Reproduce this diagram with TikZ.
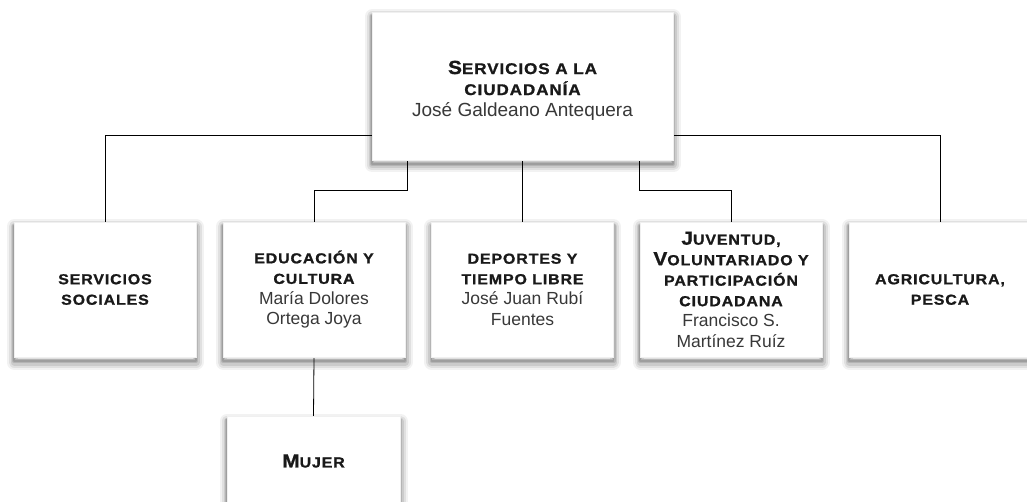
\documentclass[tikz,border=0pt]{standalone}
\usepackage{fontspec}
\setmainfont{Liberation Sans}
\newfontfamily\capfont[FakeStretch=1.1,LetterSpace=6,FakeBold=1.1]{Liberation Sans}
\usetikzlibrary{shadows}
\pgfdeclarelayer{background}
\pgfsetlayers{background,main}
\newcommand\hd[1]{{\capfont\bfseries #1}}
\newcommand\Bg[1]{{\fontsize{19}{20}\selectfont #1}}
\newcommand\nm[1]{{\fontsize{17.5}{20.5}\selectfont\color{black!78}#1}}
\tikzset{
  softshadow/.style={
    general shadow={shadow xshift=0pt, shadow yshift=-5pt, draw=black, line width=15pt, opacity=0.05, line join=round},
    general shadow={shadow xshift=0pt, shadow yshift=-5pt, draw=black, line width=11pt, opacity=0.07, line join=round},
    general shadow={shadow xshift=0pt, shadow yshift=-5pt, draw=black, line width=7pt, opacity=0.09, line join=round},
    general shadow={shadow xshift=0pt, shadow yshift=-4pt, draw=black, line width=4pt, opacity=0.11, line join=round},
    general shadow={shadow xshift=0pt, shadow yshift=-4pt, draw=black, line width=1.5pt, opacity=0.12, line join=round}},
  orgbox/.style={draw=black!6, fill=white, inner sep=0pt, align=center,
    minimum width=182pt, minimum height=135pt, text=black!90,
    font=\fontsize{14.5}{20.5}\selectfont, softshadow},
  link/.style={draw=black, line width=0.8pt}
}
\begin{document}
\begin{tikzpicture}[x=1pt,y=-1pt]
\begin{pgfonlayer}{background}
\fill[white] (0,0) rectangle (1027,502);
\end{pgfonlayer}
\path[use as bounding box, clip] (0,0) rectangle (1027,502);
% nodes
\node[orgbox, minimum width=301pt, minimum height=148pt, font=\fontsize{15.5}{21}\selectfont] (top) at (522.5,86)
  {\rule{0pt}{22pt}\hd{\Bg{S}ERVICIOS A LA}\\\hd{CIUDADANÍA}\\{\fontsize{19}{21}\selectfont\color{black!78}José Galdeano Antequera}};
\node[orgbox] (ss) at (105,289.5) {\hd{SERVICIOS}\\\hd{SOCIALES}};
\node[orgbox] (edu) at (314,289.5) {\hd{EDUCACIÓN Y}\\\hd{CULTURA}\\\nm{María Dolores}\\\nm{Ortega Joya}};
\node[orgbox] (dep) at (522.5,289.5) {\hd{DEPORTES Y}\\\hd{TIEMPO LIBRE}\\\nm{José Juan Rubí}\\\nm{Fuentes}};
\node[orgbox] (juv) at (731,289.5) {\hd{\Bg{J}UVENTUD,}\\\hd{\Bg{V}OLUNTARIADO Y}\\\hd{PARTICIPACIÓN}\\\hd{CIUDADANA}\\\nm{Francisco S.}\\\nm{Martínez Ruíz}};
\node[orgbox] (agr) at (940,289.5) {\hd{AGRICULTURA,}\\\hd{PESCA}};
\node[orgbox, minimum width=173pt, minimum height=90pt] (muj) at (313.5,461) {\hd{\Bg{M}UJER}};
% connectors
\begin{pgfonlayer}{background}
\draw[link] ([yshift=25pt]top.south west) -| (ss.north);
\draw[link] ([yshift=25pt]top.south east) -| (agr.north);
\draw[link] ([xshift=-115pt]top.south) -- ++(0,-30pt) -| (edu.north);
\draw[link] (top.south) -- (dep.north);
\draw[link] ([xshift=117pt]top.south) -- ++(0,-30pt) -| (juv.north);
\draw[link] (edu.south) -- (muj.north);
\end{pgfonlayer}
\end{tikzpicture}
\end{document}
